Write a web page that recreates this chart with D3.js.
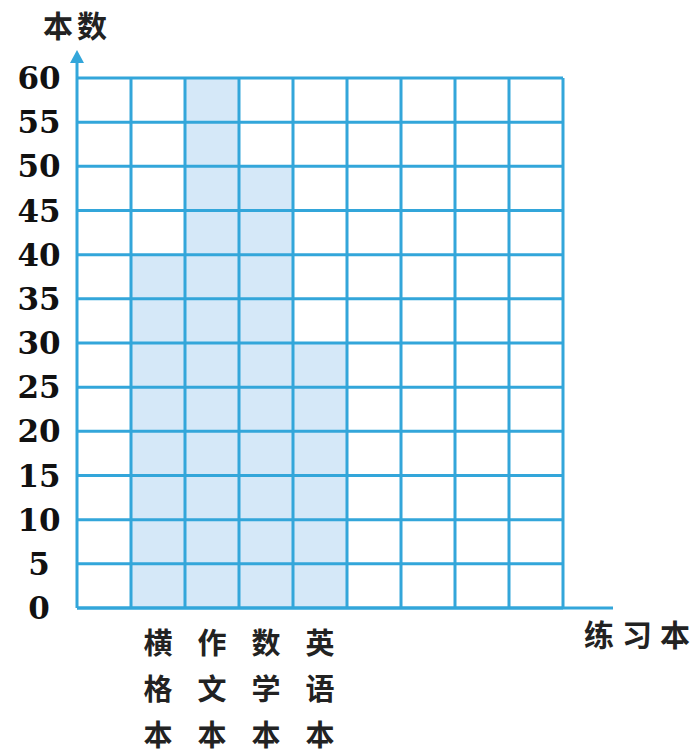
<!DOCTYPE html>
<html><head><meta charset="utf-8">
<script src="https://cdn.jsdelivr.net/npm/d3@7"></script>
<style>html,body{margin:0;padding:0;background:#fff;}</style>
</head><body>
<svg id="c" width="698" height="753"></svg>
<script>
const categories = ["横格本", "作文本", "数学本", "英语本"];
const values = [40, 60, 50, 30];
const yTickLabels = [0, 5, 10, 15, 20, 25, 30, 35, 40, 45, 50, 55, 60];
const yTitle = "本数";
const xTitle = "练习本";
const columnCount = 9;

const gridColor = "#33a6da";
const barColor = "#d5e8f8";
const svg = d3.select("#c");

const x = d3.scaleLinear().domain([0, columnCount]).range([77, 563]);
const y = d3.scaleLinear().domain([0, 60]).range([608, 78]);

// bars (first column blank)
svg.append("g").selectAll("rect").data(values).join("rect")
  .attr("x", (d, i) => x(i + 1))
  .attr("width", x(1) - x(0))
  .attr("y", d => y(d))
  .attr("height", d => y(0) - y(d))
  .attr("fill", barColor);

// grid
const g = svg.append("g").attr("stroke", gridColor).attr("stroke-width", 3);
g.selectAll("line.h").data(yTickLabels).join("line")
  .attr("x1", x(0)).attr("x2", x(columnCount))
  .attr("y1", d => y(d)).attr("y2", d => y(d));
g.selectAll("line.v").data(d3.range(0, columnCount + 1)).join("line")
  .attr("x1", d => x(d)).attr("x2", d => x(d))
  .attr("y1", y(0)).attr("y2", y(60));

// x axis extension
g.append("line").attr("x1", x(0)).attr("x2", 613).attr("y1", y(0)).attr("y2", y(0));
// y axis arrow
g.append("line").attr("x1", x(0)).attr("x2", x(0)).attr("y1", y(60)).attr("y2", 58);
svg.append("path")
  .attr("d", `M${x(0)},50 L${x(0) - 7},63 L${x(0) + 7},63 Z`)
  .attr("fill", gridColor);

// y tick labels
svg.append("g").selectAll("text").data(yTickLabels).join("text")
  .attr("x", 39).attr("y", d => y(d))
  .attr("dy", "0.36em")
  .attr("text-anchor", "middle")
  .attr("font-family", "'DejaVu Serif', serif")
  .attr("font-weight", "bold")
  .attr("font-size", 31)
  .attr("fill", "#111")
  .text(d => d);

// category labels, vertical
const cat = svg.append("g")
  .attr("font-family", "'Noto Sans CJK SC', sans-serif")
  .attr("font-weight", "bold")
  .attr("font-size", 29)
  .attr("fill", "#222")
  .attr("text-anchor", "middle");
categories.forEach((c, i) => {
  Array.from(c).forEach((ch, j) => {
    cat.append("text")
      .attr("x", (x(i + 1) + x(i + 2)) / 2)
      .attr("y", 644 + j * 46)
      .attr("dy", "0.36em")
      .text(ch);
  });
});

// titles
svg.append("text").attr("x", 77).attr("y", 26).attr("dy", "0.36em")
  .attr("text-anchor", "middle")
  .attr("font-family", "'Noto Sans CJK SC', sans-serif")
  .attr("font-weight", "bold").attr("font-size", 30)
  .attr("letter-spacing", 4)
  .attr("fill", "#222").text(yTitle);
svg.append("text").attr("x", 641).attr("y", 635).attr("dy", "0.36em")
  .attr("text-anchor", "middle")
  .attr("font-family", "'Noto Sans CJK SC', sans-serif")
  .attr("font-weight", "bold").attr("font-size", 30)
  .attr("letter-spacing", 8)
  .attr("fill", "#222").text(xTitle);
</script>
</body></html>
